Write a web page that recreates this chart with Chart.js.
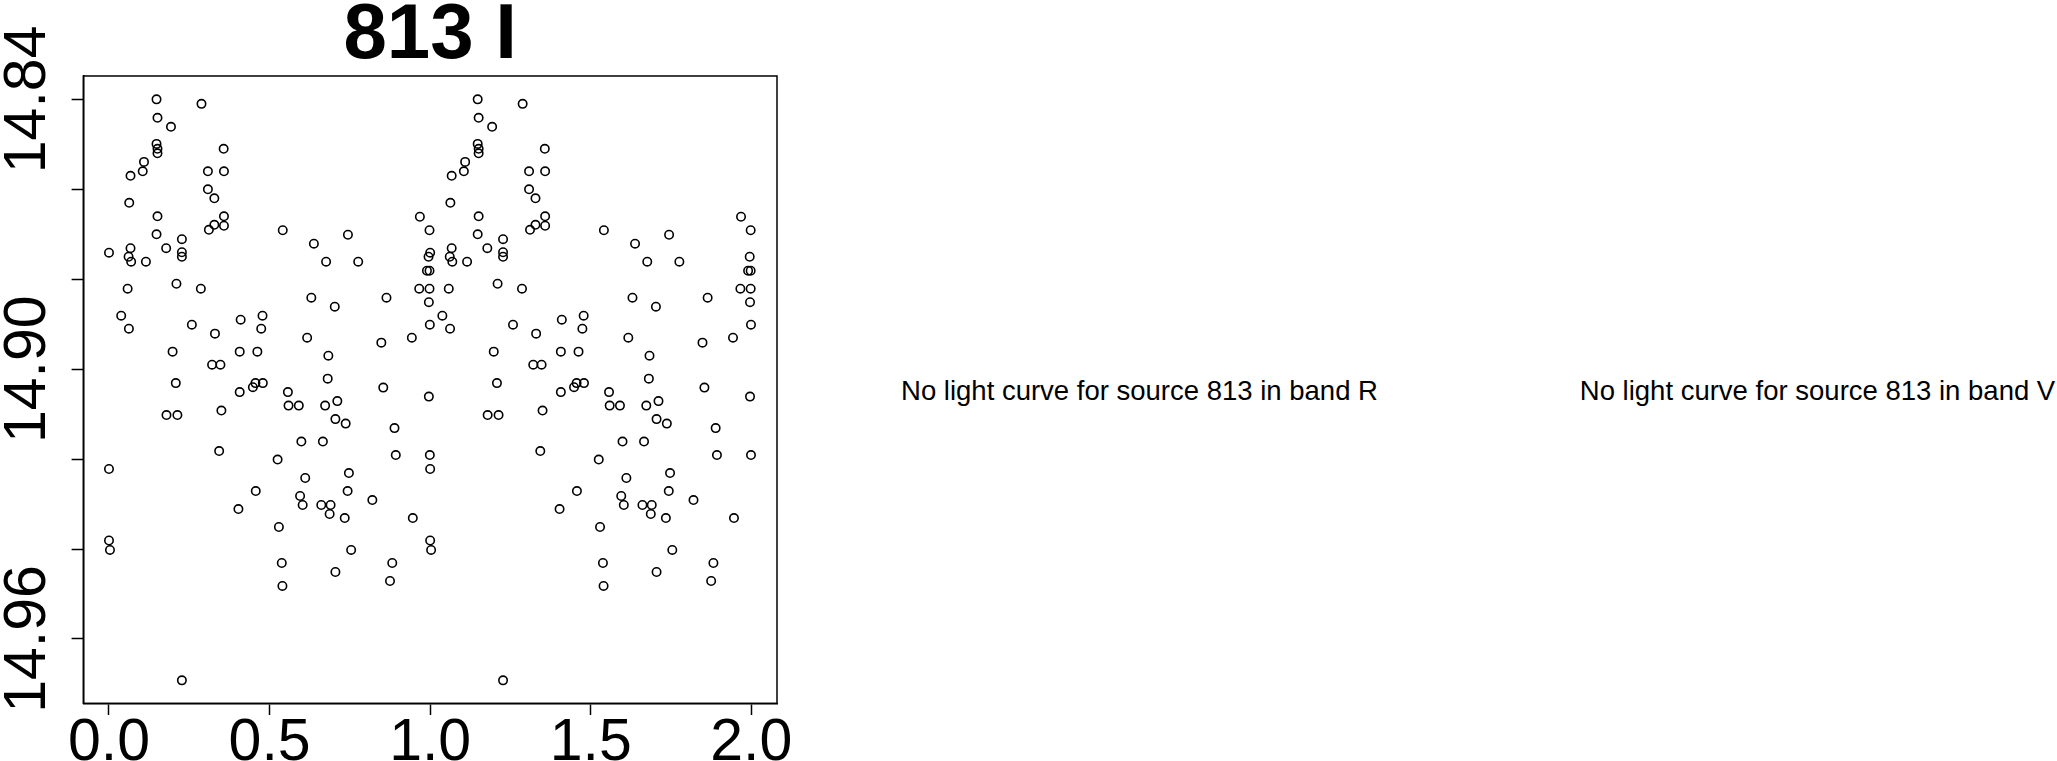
<!DOCTYPE html>
<html>
<head>
<meta charset="utf-8">
<script src="https://cdn.jsdelivr.net/npm/chart.js@4.4.1/dist/chart.umd.min.js"></script>
<style>
  html, body { margin: 0; padding: 0; background: #fff; overflow: hidden; }
  body { width: 2057px; height: 761px; position: relative; font-family: "Liberation Sans", Arial, sans-serif; }
  #lcWrap { position: absolute; left: 0; top: 0; width: 800px; height: 800px; }
  .nolc { position: absolute; top: 377px; font-size: 27.5px; line-height: 27.5px; color: #000;
          white-space: nowrap; transform: translateX(-50%); }
</style>
</head>
<body>
<div id="lcWrap"><canvas id="lcChart" width="800" height="800"></canvas></div>
<div class="nolc" style="left:1139.5px">No light curve for source 813 in band R</div>
<div class="nolc" style="left:1817.5px">No light curve for source 813 in band V</div>
<script>
// folded I-band light curve of source 813 (phase 0..1, plotted twice)
const phase = [
  0.148, 0.288, 0.151, 0.193, 0.148, 0.151, 0.151, 0.357, 0.109, 0.105,
  0.067, 0.308, 0.358, 0.308, 0.328, 0.063, 0.151, 0.358, 0.328, 0.311,
  0.358, 0.148, 0.227, 0.178, 0.067, 0.000, 0.061, 0.069, 0.115, 0.227,
  0.227, 0.058, 0.210, 0.286, 0.038, 0.062, 0.258, 0.330, 0.410, 0.478,
  0.474, 0.198, 0.407, 0.462, 0.321, 0.347, 0.208, 0.407, 0.448, 0.456,
  0.479, 0.179, 0.213, 0.350, 0.343, 0.000, 0.457, 0.403, 0.000, 0.003,
  0.227,
  0.541, 0.638, 0.744, 0.676, 0.776, 0.968, 0.998, 0.995, 0.990, 0.998,
  0.966, 0.998, 0.996, 0.630, 0.703, 0.864, 0.999, 0.617, 0.848, 0.943,
  0.683, 0.557, 0.681, 0.854, 0.711, 0.996, 0.559, 0.591, 0.673, 0.705,
  0.737, 0.889, 0.599, 0.666, 0.525, 0.893, 0.999, 0.611, 0.747, 0.595,
  0.603, 0.743, 0.820, 0.661, 0.690, 0.687, 0.734, 0.946, 0.529, 0.754,
  0.538, 0.882, 0.705, 0.540, 0.875
];
const mag = [
  14.8400, 14.8410, 14.8441, 14.8461, 14.8499, 14.8510, 14.8520, 14.8510, 14.8539, 14.8560,
  14.8570, 14.8560, 14.8560, 14.8600, 14.8620, 14.8630, 14.8660, 14.8660, 14.8679, 14.8690,
  14.8681, 14.8700, 14.8711, 14.8731, 14.8731, 14.8741, 14.8750, 14.8761, 14.8761, 14.8740,
  14.8750, 14.8821, 14.8810, 14.8821, 14.8881, 14.8910, 14.8901, 14.8921, 14.8890, 14.8881,
  14.8910, 14.8961, 14.8961, 14.8961, 14.8990, 14.8990, 14.9031, 14.9051, 14.9040, 14.9031,
  14.9031, 14.9102, 14.9102, 14.9092, 14.9182, 14.9222, 14.9271, 14.9311, 14.9381, 14.9402,
  14.9692,
  14.8691, 14.8721, 14.8701, 14.8761, 14.8761, 14.8661, 14.8691, 14.8750, 14.8781, 14.8781,
  14.8821, 14.8821, 14.8851, 14.8841, 14.8861, 14.8841, 14.8901, 14.8930, 14.8941, 14.8930,
  14.8970, 14.9051, 14.9021, 14.9041, 14.9071, 14.9061, 14.9081, 14.9081, 14.9081, 14.9111,
  14.9121, 14.9131, 14.9161, 14.9161, 14.9201, 14.9191, 14.9191, 14.9242, 14.9231, 14.9282,
  14.9302, 14.9271, 14.9291, 14.9302, 14.9302, 14.9322, 14.9331, 14.9331, 14.9351, 14.9402,
  14.9431, 14.9431, 14.9451, 14.9482, 14.9471
];
const xTicks = [0.0, 0.5, 1.0, 1.5, 2.0];
const yTicks = [14.84, 14.86, 14.88, 14.90, 14.92, 14.94, 14.96];
const yLabels = ['14.84', '14.90', '14.96'];
const title = '813 I';

// two cycles: phase and phase + 1
const points = [];
phase.forEach((p, i) => points.push({ x: p, y: mag[i] }));
phase.forEach((p, i) => points.push({ x: p + 1, y: mag[i] }));

const FONT = '"Liberation Sans", Arial, sans-serif';

// R-style closed box around the plot region
const boxPlugin = {
  id: 'box',
  afterDraw(chart) {
    const a = chart.chartArea, ctx = chart.ctx;
    ctx.save();
    ctx.strokeStyle = '#000';
    ctx.lineWidth = 1.5;
    ctx.strokeRect(a.left, a.top, a.right - a.left, a.bottom - a.top);
    ctx.restore();
  }
};

// y labels written along the axis (rotated), only some ticks labelled
const yLabelPlugin = {
  id: 'yLabels',
  afterDraw(chart) {
    const sc = chart.scales.y, ctx = chart.ctx;
    ctx.save();
    ctx.fillStyle = '#000';
    ctx.font = '59px ' + FONT;
    ctx.textAlign = 'center';
    ctx.textBaseline = 'alphabetic';
    yLabels.forEach(lbl => {
      const py = sc.getPixelForValue(parseFloat(lbl));
      ctx.save();
      ctx.translate(44.5, py);
      ctx.rotate(-Math.PI / 2);
      ctx.fillText(lbl, 0, 0);
      ctx.restore();
    });
    ctx.restore();
  }
};

new Chart(document.getElementById('lcChart'), {
  type: 'scatter',
  data: {
    datasets: [{
      data: points,
      showLine: false,
      pointStyle: 'circle',
      pointRadius: 4.2,
      pointBorderWidth: 1.6,
      pointBorderColor: '#000',
      pointBackgroundColor: 'rgba(0,0,0,0)'
    }]
  },
  options: {
    responsive: false,
    animation: false,
    events: [],
    layout: { padding: { left: 0, right: 23, top: 0, bottom: 0 } },
    plugins: {
      legend: { display: false },
      tooltip: { enabled: false },
      title: {
        display: true,
        text: title,
        fullSize: false,
        color: '#000',
        font: { family: FONT, size: 78, weight: 'bold', lineHeight: 0.787 },
        padding: { top: 6, bottom: 8.6 }
      }
    },
    scales: {
      x: {
        type: 'linear',
        min: -0.08,
        max: 2.08,
        afterBuildTicks: sc => { sc.ticks = xTicks.map(v => ({ value: v })); },
        afterFit: sc => { sc.height = 96.7; sc.paddingLeft = 0; sc.paddingRight = 0; },
        ticks: {
          color: '#000',
          font: { family: FONT, size: 59 },
          padding: -7,
          maxRotation: 0,
          callback: v => v.toFixed(1)
        },
        grid: { drawOnChartArea: false, drawTicks: true, tickLength: 11.7, tickColor: '#000', tickWidth: 1.5 },
        border: { display: true, color: '#000', width: 1.5 }
      },
      y: {
        type: 'linear',
        reverse: true,
        min: 14.8348,
        max: 14.9743,
        afterBuildTicks: sc => { sc.ticks = yTicks.map(v => ({ value: v })); },
        afterFit: sc => { sc.width = 83.3; sc.paddingTop = 0; sc.paddingBottom = 0; },
        ticks: { display: false },
        grid: { drawOnChartArea: false, drawTicks: true, tickLength: 11.7, tickColor: '#000', tickWidth: 1.5 },
        border: { display: true, color: '#000', width: 1.5 }
      }
    }
  },
  plugins: [boxPlugin, yLabelPlugin]
});
</script>
</body>
</html>
